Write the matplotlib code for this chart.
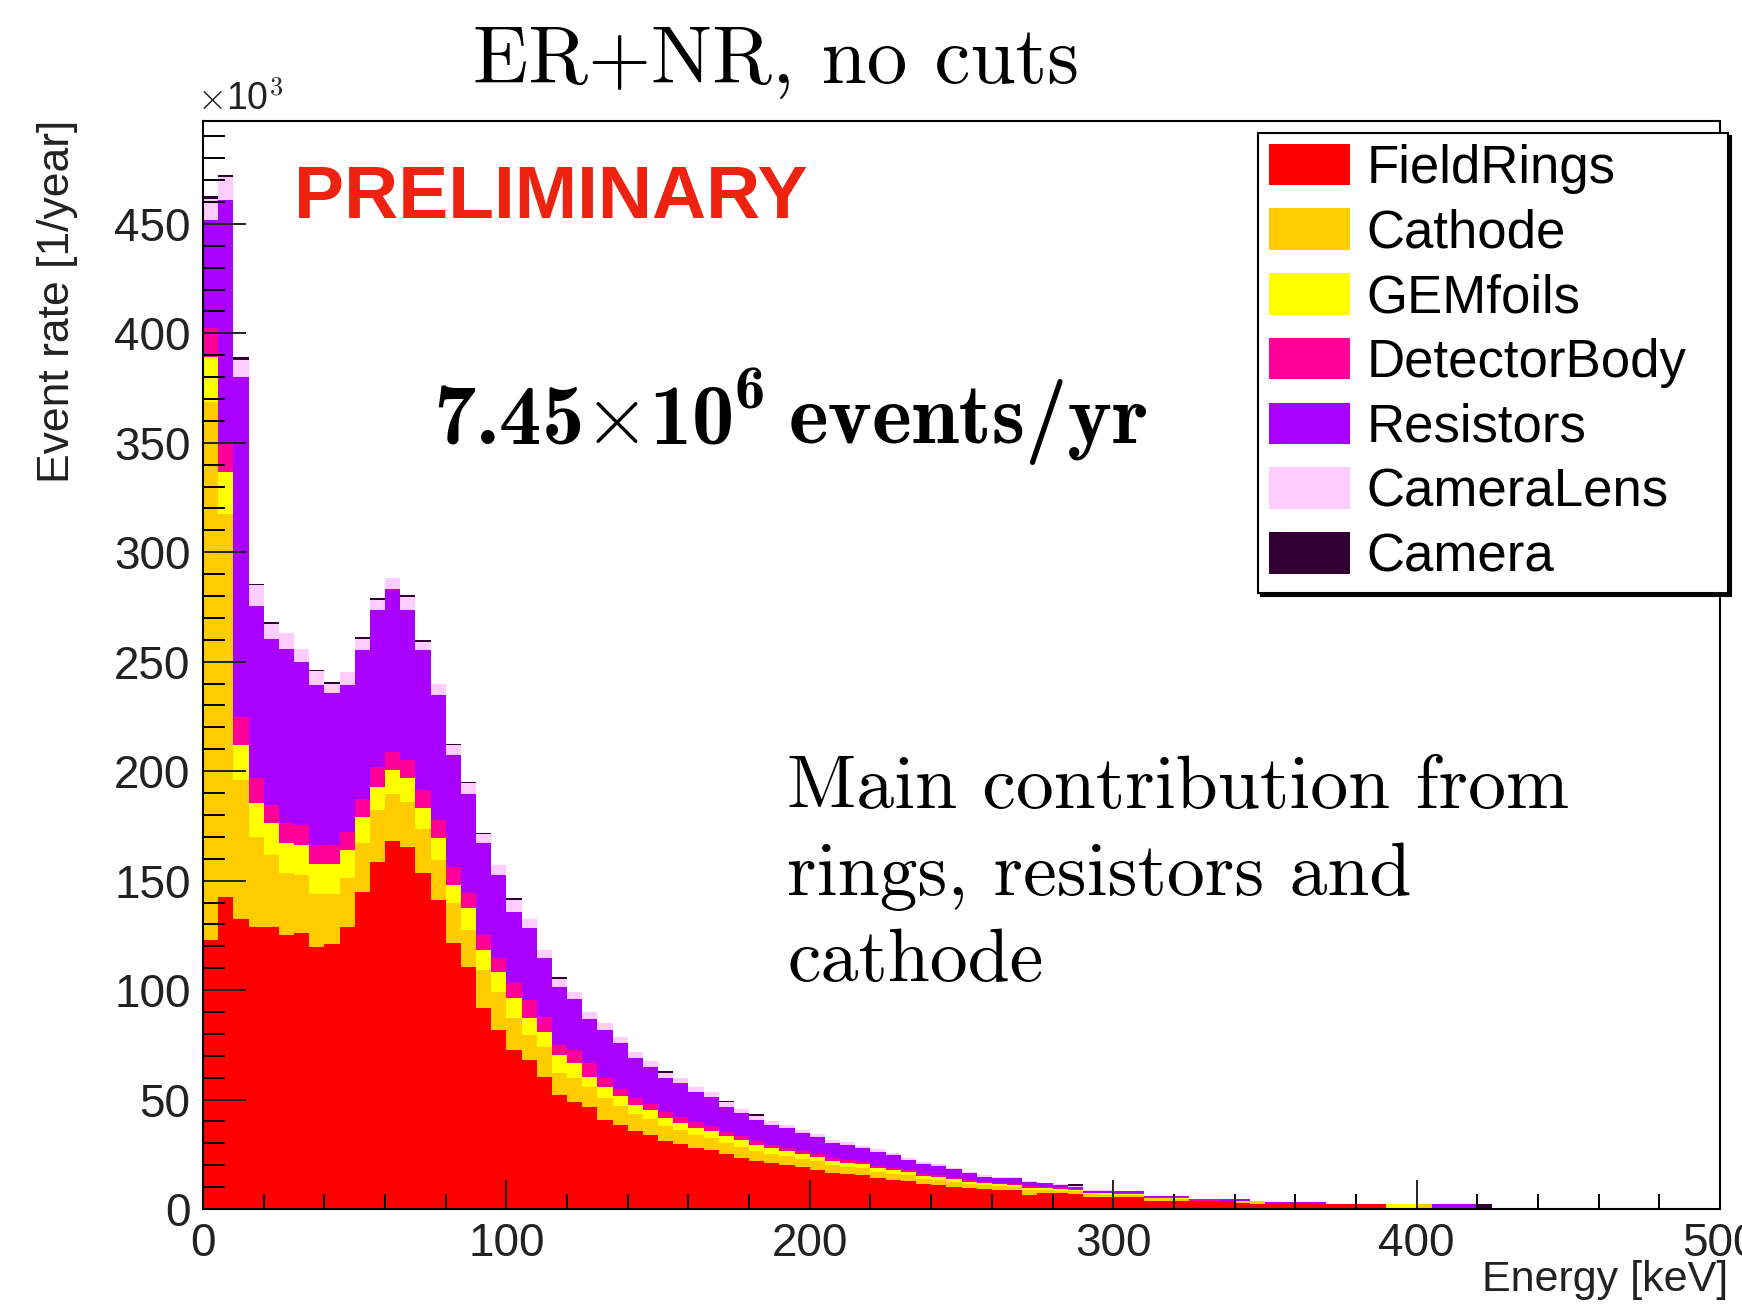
import numpy as np
import matplotlib
matplotlib.use("Agg")
import matplotlib.pyplot as plt
from matplotlib.patches import Patch

plt.rcParams["mathtext.fontset"] = "cm"
plt.rcParams["font.family"] = ["Liberation Sans", "DejaVu Sans"]

# stacked event rates per 5 keV bin, in units of 10^3 events/year (bins start at 0 keV)
field_rings = [
    122.8, 142.6, 132.7, 128.9, 128.9, 125.1, 126.2, 119.8, 121.0, 128.9,
    144.9, 158.6, 168.2, 165.4, 153.3, 141.1, 121.3, 110.6, 91.6, 81.7,
    72.6, 68.0, 60.4, 52.1, 49.0, 46.7, 40.6, 38.5, 35.5, 33.6,
    31.0, 29.5, 28.0, 27.0, 25.0, 23.5, 22.0, 21.0, 20.0, 19.0,
    18.0, 16.5, 16.0, 15.5, 14.0, 13.2, 13.0, 11.3, 11.0, 10.2,
    9.4, 9.2, 8.7, 8.5, 6.4, 7.2, 7.2, 7.0, 5.6, 5.6,
    5.6, 5.6, 3.8, 3.8, 3.5, 3.5, 3.5, 3.5, 2.7, 2.4,
    2.3, 2.3, 2.3, 2.3, 2.3, 2.3, 2.3, 2.3, 0.0, 0.0,
    0.0, 0.0, 0.0, 0.0, 0.0,
]
cathode = [
    245.7, 175.1, 63.2, 41.1, 32.7, 28.2, 26.3, 24.3, 23.1, 22.1,
    22.1, 23.6, 21.6, 20.6, 20.5, 18.3, 18.3, 16.8, 17.5, 17.5,
    14.5, 11.5, 13.7, 9.9, 10.7, 9.1, 9.9, 8.5, 8.0, 7.5,
    6.8, 6.5, 6.0, 5.6, 5.2, 5.0, 4.6, 4.3, 4.1, 3.9,
    3.7, 3.4, 3.3, 3.1, 3.0, 2.8, 2.6, 2.4, 2.3, 2.1,
    1.9, 1.7, 1.6, 1.6, 2.2, 1.4, 1.2, 1.1, 1.1, 1.0,
    1.0, 1.0, 1.0, 1.0, 1.2, 0.0, 0.0, 0.0, 0.8, 1.1,
    0.0, 0.0, 0.0, 0.0, 0.0, 0.0, 0.0, 0.0, 0.0, 0.0,
    2.3, 0.0, 0.0, 0.0, 0.0,
]
gem_foils = [
    20.5, 18.8, 16.0, 15.5, 14.5, 13.7, 13.7, 13.7, 13.7, 12.9,
    12.1, 10.6, 10.7, 10.7, 9.2, 9.9, 8.3, 9.9, 9.2, 9.2,
    9.1, 7.6, 6.9, 8.3, 6.8, 4.6, 5.3, 4.5, 4.2, 4.0,
    3.6, 3.4, 3.2, 3.1, 3.0, 2.8, 2.6, 2.4, 2.3, 2.2,
    2.1, 2.0, 1.9, 1.8, 1.7, 1.6, 1.5, 1.4, 1.3, 1.2,
    1.1, 1.0, 1.0, 0.9, 1.2, 0.8, 0.7, 0.6, 0.5, 0.5,
    0.4, 0.4, 0.3, 0.3, 0.3, 0.0, 0.0, 0.0, 0.0, 0.0,
    0.0, 0.0, 0.0, 0.0, 0.0, 0.0, 0.0, 0.0, 2.3, 2.3,
    0.0, 0.0, 0.0, 0.0, 0.0,
]
detector_body = [
    13.3, 14.0, 12.9, 11.2, 8.4, 9.1, 9.1, 8.4, 8.4, 8.4,
    8.4, 9.2, 8.3, 8.3, 8.3, 8.3, 8.4, 6.9, 6.8, 6.1,
    6.9, 8.3, 6.8, 4.6, 6.1, 6.1, 3.9, 3.5, 3.2, 3.0,
    2.8, 2.6, 2.4, 2.3, 2.1, 2.0, 1.8, 1.7, 1.6, 1.5,
    1.4, 1.3, 1.3, 1.2, 1.1, 1.0, 0.9, 0.8, 0.8, 0.7,
    0.7, 0.6, 0.6, 0.5, 0.5, 0.5, 0.4, 0.4, 0.3, 0.3,
    0.3, 0.3, 0.2, 0.2, 0.3, 1.1, 1.1, 0.0, 0.0, 0.0,
    0.0, 0.0, 0.0, 0.0, 0.0, 0.0, 0.0, 0.0, 0.0, 0.0,
    0.0, 0.0, 0.0, 0.0, 0.0,
]
resistors = [
    49.3, 110.2, 155.2, 78.6, 76.1, 79.9, 74.6, 73.1, 69.3, 67.0,
    67.8, 71.8, 74.6, 68.8, 64.0, 57.1, 51.0, 45.6, 41.9, 38.0,
    32.7, 32.8, 26.7, 26.6, 23.4, 20.5, 22.0, 20.7, 17.9, 16.9,
    15.5, 15.4, 14.0, 13.3, 11.4, 10.4, 9.6, 9.0, 8.8, 8.0,
    7.8, 6.8, 6.7, 6.1, 6.4, 6.0, 4.4, 4.7, 4.3, 3.9,
    3.2, 2.3, 2.1, 2.5, 2.2, 1.8, 1.5, 1.1, 0.9, 1.0,
    0.8, 0.8, 0.7, 0.7, 0.7, 0.0, 0.0, 1.1, 1.1, 0.0,
    1.0, 1.0, 1.0, 1.0, 0.0, 0.0, 0.0, 0.0, 0.0, 0.0,
    0.0, 2.3, 2.3, 2.3, 0.0,
]
camera_lens = [
    9.9, 10.8, 7.7, 9.7, 6.8, 6.9, 6.1, 6.3, 4.5, 6.1,
    5.3, 4.3, 5.0, 5.7, 3.8, 5.3, 4.6, 4.6, 4.2, 4.6,
    5.3, 4.5, 3.8, 3.4, 3.2, 3.0, 3.3, 3.0, 2.8, 2.5,
    2.5, 2.4, 2.3, 2.2, 2.0, 2.0, 1.8, 1.7, 1.6, 1.5,
    1.4, 1.3, 1.2, 1.2, 1.1, 1.0, 1.0, 0.9, 0.8, 0.8,
    0.7, 0.6, 0.6, 0.5, 0.5, 0.4, 0.4, 0.3, 0.3, 0.3,
    0.0, 0.0, 0.0, 0.0, 0.0, 0.0, 0.0, 0.0, 0.0, 0.0,
    0.0, 0.0, 0.0, 0.0, 0.0, 0.0, 0.0, 0.0, 0.0, 0.0,
    0.0, 0.0, 0.0, 0.0, 0.0,
]
camera = [
    1.1, 0.9, 1.5, 0.7, 0.8, 0.0, 0.0, 0.8, 0.8, 0.0,
    0.8, 0.8, 0.0, 0.8, 0.7, 0.0, 0.7, 0.7, 0.6, 0.0,
    0.8, 0.0, 0.0, 0.9, 0.0, 0.0, 0.0, 0.0, 0.0, 0.0,
    0.8, 0.0, 0.0, 0.0, 0.8, 0.0, 0.8, 0.0, 0.0, 0.0,
    0.0, 0.0, 0.0, 0.0, 0.0, 0.0, 0.0, 0.0, 0.0, 0.0,
    0.0, 0.0, 0.0, 0.0, 0.0, 0.0, 0.0, 0.8, 0.0, 0.0,
    0.0, 0.0, 0.0, 0.0, 0.0, 0.0, 0.0, 0.0, 0.0, 0.0,
    0.0, 0.0, 0.0, 0.0, 0.0, 0.0, 0.0, 0.0, 0.0, 0.0,
    0.0, 0.0, 0.0, 0.0, 2.3,
]

bin_width = 5.0
labels = ["FieldRings", "Cathode", "GEMfoils", "DetectorBody", "Resistors", "CameraLens", "Camera"]
colors = ["#ff0000", "#ffcc00", "#ffff00", "#ff0099", "#aa00ff", "#ffccff", "#330033"]
series = [field_rings, cathode, gem_foils, detector_body, resistors, camera_lens, camera]

W, H = 1742, 1306
fig = plt.figure(figsize=(W / 100, H / 100), dpi=100)
ax = fig.add_axes([203 / W, 1 - 1209 / H, (1720 - 203) / W, (1209 - 121) / H])

edges = np.arange(len(field_rings) + 1) * bin_width
bottom = np.zeros(len(field_rings))
for vals, color in zip(series, colors):
    vals = np.asarray(vals, dtype=float)
    ax.stairs(bottom + vals, edges, baseline=bottom.copy(), fill=True, color=color, lw=0)
    bottom = bottom + vals

ax.set_xlim(0, 500)
ax.set_ylim(0, 497)
ax.set_xticks(np.arange(0, 501, 100))
ax.set_xticks(np.arange(0, 501, 20), minor=True)
ax.set_yticks(np.arange(0, 451, 50))
ax.set_yticks(np.arange(0, 497, 10), minor=True)
ax.tick_params(axis="x", which="major", direction="in", length=21, width=1.4, pad=9, labelsize=33)
ax.tick_params(axis="x", which="minor", direction="in", length=11, width=1.4)
ax.tick_params(axis="y", which="major", direction="in", length=31, width=1.4, pad=9, labelsize=33)
ax.tick_params(axis="y", which="minor", direction="in", length=16, width=1.4)
for side in ax.spines.values():
    side.set_linewidth(1.5)
ax.tick_params(colors="#222222", labelcolor="#222222")

fig.text(58 / W, 1 - 120 / H, "Event rate [1/year]", rotation=90, ha="center", va="top",
         fontsize=32, color="#222222")
fig.text(1728 / W, 1 - 1280 / H, "Energy [keV]", ha="right", va="center", fontsize=31, color="#222222")
fig.text(197 / W, 1 - 100 / H, r"$\times$10$^{3}$", ha="left", va="center", fontsize=27, color="#222222")

fig.text(776 / W, 1 - 62 / H, "ER+NR, no cuts", fontname="cmr10", fontsize=58.5, ha="center", va="center")
fig.text(294 / W, 1 - 218 / H, "PRELIMINARY", fontsize=54, fontweight="bold", color="#ee2211",
         ha="left", va="baseline")

# total rate, written piece by piece so the exponent can be bold and sized like the original
renderer = fig.canvas.get_renderer()
rate_size = 61
x_px, base_px = 433, 443
t = fig.text(x_px / W, 1 - base_px / H, r"7.45$\times$10", fontname="cmb10", fontsize=rate_size,
             ha="left", va="baseline")
x_px += t.get_window_extent(renderer).width + 2
t = fig.text(x_px / W, 1 - (base_px - 34) / H, "6", fontname="cmb10", fontsize=rate_size * 0.72,
             ha="left", va="baseline")
x_px += t.get_window_extent(renderer).width + 24
fig.text(x_px / W, 1 - base_px / H, "events/yr", fontname="cmb10", fontsize=rate_size,
         ha="left", va="baseline")

note_lines = ["Main contribution from", "rings, resistors and", "cathode"]
note_baselines = [808, 895, 981]
for line, base in zip(note_lines, note_baselines):
    fig.text(787 / W, 1 - base / H, line, fontname="cmr10", fontsize=54.5, ha="left", va="baseline")

handles = [Patch(facecolor=c, edgecolor="none") for c in colors]
leg = ax.legend(handles, labels, loc="upper left", mode="expand",
                bbox_to_anchor=(1258 / W, 1 - 592 / H, (1728 - 1258) / W, (592 - 133) / H),
                bbox_transform=fig.transFigure, borderaxespad=0, fontsize=38,
                handlelength=1.55, handleheight=0.83, handletextpad=0.3, labelspacing=0.28,
                borderpad=0.2, fancybox=False, edgecolor="black", framealpha=1,
                shadow={"color": "black", "alpha": 1})
leg.get_frame().set_linewidth(1.5)

fig.savefig("out.png", dpi=100)
